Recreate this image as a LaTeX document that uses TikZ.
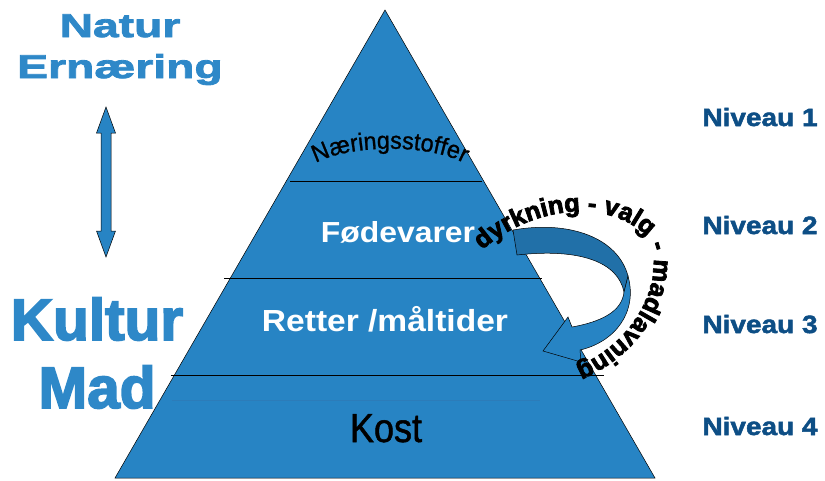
\documentclass[tikz,border=0pt]{standalone}
\usepackage{fontspec}
\setmainfont{Liberation Sans}
\usetikzlibrary{decorations.text}
\newfontfamily\widefont[FakeStretch=1.4,FakeBold=2.5]{Liberation Sans Bold}
\newfontfamily\heavyfont[FakeBold=3]{Liberation Sans Bold}
\newfontfamily\niveaufont[FakeStretch=1.12,FakeBold=2]{Liberation Sans Bold}
\newfontfamily\levelfont[FakeStretch=1.1]{Liberation Sans Bold}
\newfontfamily\narrowfont[FakeStretch=0.89,FakeBold=1.2]{Liberation Sans}
\newfontfamily\arcfont[FakeStretch=0.95,FakeBold=1]{Liberation Sans}
\definecolor{pyrblue}{RGB}{39,132,196}
\definecolor{bandblue}{RGB}{33,112,168}
\definecolor{sideblue}{RGB}{46,136,200}
\definecolor{niveaublue}{RGB}{13,78,133}
\definecolor{faintline}{RGB}{44,124,185}
\tikzset{%
  side/.style = {text=sideblue, inner sep=0pt, anchor=base},
  niveau/.style = {text=niveaublue, inner sep=0pt, anchor=base,
        font=\niveaufont\fontsize{25}{25}\selectfont},
  lvl/.style = {text=white, inner sep=0pt, anchor=base,
        font=\levelfont},
  layerline/.style = {draw=black, line width=0.6pt},
  outline/.style = {draw=black, line width=0.5pt}
}
\begin{document}
\begin{tikzpicture}[x=1pt,y=-1pt]
    \useasboundingbox (0,0) rectangle (825,480);
    % pyramide
    \fill[pyrblue, outline] (385,10) -- (655,478) -- (115,478) -- cycle;
    \draw[layerline] (290,181) -- (482,181);
    \draw[layerline] (224,278) -- (542,278);
    \draw[layerline] (171,375) -- (604,375);
    \draw[faintline, line width=0.6pt] (172,400) -- (540,400);
    % niveauer i pyramiden
    \path[decorate, decoration={text along path, text align=center,
        text={|\arcfont\fontsize{24.5}{24.5}\selectfont|Næringsstoffer}}]
        (311,166) .. controls (345,143) and (435,143) .. (469,166);
    \node[lvl, font=\levelfont\fontsize{29}{29}\selectfont] (foedevarer) at (398,242) {Fødevarer};
    \node[lvl, font=\levelfont\fontsize{30.5}{30.5}\selectfont] (retter) at (385,331) {Retter /måltider};
    \node[inner sep=0pt, anchor=base, font=\narrowfont\fontsize{40.5}{40.5}\selectfont] (kost) at (386,442) {Kost};
    % buet pil
    \fill[bandblue, outline] (513,230) .. controls (570,220) and (618,238) .. (628,276)
        -- (624,292) .. controls (618,262) and (580,248) .. (517,255) -- cycle;
    \fill[pyrblue, outline] (628,276) .. controls (638,312) and (615,342) .. (580,350)
        -- (581,362) -- (543,351) -- (568,317) -- (572,327)
        .. controls (600,322) and (622,312) .. (624,292) -- cycle;
    \path[decorate, decoration={text along path, text align=left,
        text={|\heavyfont\fontsize{25.5}{25.5}\selectfont|dyrkning - valg - madlavning}}]
        (482,250) .. controls (530,208) and (602,198) .. (642,232)
        .. controls (668,256) and (652,336) .. (574,368);
    % venstre side
    \node[side, font=\widefont\fontsize{33}{33}\selectfont] (natur) at (120,37) {Natur};
    \node[side, font=\widefont\fontsize{33}{33}\selectfont] (ernaering) at (120,78) {Ernæring};
    \filldraw[fill=pyrblue, outline] (106,107) -- (115.5,133) -- (111,133) -- (111,231)
        -- (115.5,231) -- (106,257) -- (96.5,231) -- (101,231) -- (101,133)
        -- (96.5,133) -- cycle;
    \node[side, font=\heavyfont\fontsize{58.5}{58.5}\selectfont] (kultur) at (97,340) {Kultur};
    \node[side, font=\heavyfont\fontsize{58.5}{58.5}\selectfont] (mad) at (97,408) {Mad};
    % hoejre side
    \node[niveau] (niv1) at (760,126) {Niveau 1};
    \node[niveau] (niv2) at (760,234) {Niveau 2};
    \node[niveau] (niv3) at (760,333) {Niveau 3};
    \node[niveau] (niv4) at (760,435) {Niveau 4};
\end{tikzpicture}
\end{document}
